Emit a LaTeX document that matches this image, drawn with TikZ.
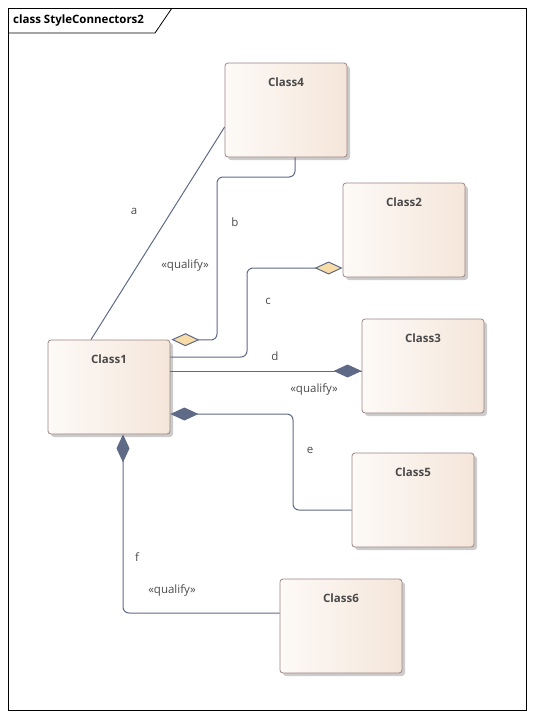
\documentclass[tikz,border=0pt]{standalone}
\usepackage{fontspec}
\setmainfont{Open Sans}
\usetikzlibrary{arrows.meta,shadows,calc}
\definecolor{connc}{HTML}{5F6A87}
\definecolor{boxborder}{HTML}{9C8484}
\definecolor{boxleft}{HTML}{FDFAF7}
\definecolor{boxright}{HTML}{F5E6DA}
\definecolor{hollowfill}{HTML}{F8DCA8}
\definecolor{txt}{HTML}{4A4A4A}
\begin{document}
\begin{tikzpicture}[x=1pt,y=-1pt,
  cls/.style={draw=boxborder, line width=0.8pt, rounded corners=3pt,
    minimum width=122pt, minimum height=94pt, inner sep=0pt,
    left color=boxleft, right color=boxright,
    drop shadow={shadow xshift=3pt, shadow yshift=-3pt, fill=black!20, opacity=1}},
  ttl/.style={font=\fontsize{11.5}{13}\selectfont\bfseries, text=txt, inner sep=0pt, anchor=north, yshift=-15pt},
  conn/.style={draw=connc, line width=1pt, rounded corners=6pt},
  lbl/.style={font=\fontsize{11.5}{13}\selectfont, text=txt, inner sep=0pt},
  hollow/.style={{Diamond[length=28pt,width=13pt,fill=hollowfill]}-},
  solid/.style={{Diamond[length=28pt,width=13pt]}-}
]
\useasboundingbox (0,0) rectangle (534,718);
% frame
\draw[line width=0.8pt, black] (8,8) rectangle (526,710);
\draw[line width=0.8pt, black] (8,33) -- (155,33) -- (172,8);
\node[anchor=west, font=\fontsize{11.5}{13}\selectfont\bfseries, text=black, inner sep=0pt] (title) at (13,21) {class StyleConnectors2};

% classes
\node[cls, label={[ttl]north:Class4}] (c4) at (286,110) {};
\node[cls, label={[ttl]north:Class2}] (c2) at (404,230) {};
\node[cls, label={[ttl]north:Class3}] (c3) at (423,366) {};
\node[cls, label={[ttl]north:Class1}] (c1) at (109,387) {};
\node[cls, label={[ttl]north:Class5}] (c5) at (413,500) {};
\node[cls, label={[ttl]north:Class6}] (c6) at (341,626) {};

% bend coordinates
\coordinate (b1) at (217,340);
\coordinate (b2) at (217,177);
\coordinate (b3) at (295,177);
\coordinate (cc1) at (247,268);
\coordinate (cc2) at (247,357);
\coordinate (e1) at (293,414);
\coordinate (e2) at (293,510);
\coordinate (f1) at (123,613);

% a
\draw[conn] ($(c1.north)+(-18,0)$) -- ($(c4.west)+(0,17)$);
% b
\draw[conn, hollow] ($(c1.north east)+(1,0)$) -- (b1) -- (b2) -- (b3) -- (c4.south -| b3);
% c
\draw[conn, hollow] ($(c2.west)+(0,38)$) -- (cc1) -- (cc2) -- (c1.east |- cc2);
% d
\draw[conn] ($(c1.east)+(0,-16)$) -- ($(c3.west)+(0,5)$);
\draw[conn, solid] ($(c3.west)+(0,5)$) -- ++(-30,0);
% e
\draw[conn, solid] ($(c1.east)+(0,27)$) -- (e1) -- (e2) -- (c5.west |- e2);
% f
\draw[conn, solid] ($(c1.south)+(14,0)$) -- (f1) -- (c6.west |- f1);

% labels
\node[lbl] (la) at (134,211) {a};
\node[lbl] (lb) at (235,222) {b};
\node[lbl] (lq1) at (185,265) {«qualify»};
\node[lbl] (lc) at (268,301) {c};
\node[lbl] (ld) at (275,356) {d};
\node[lbl] (lq2) at (314,389) {«qualify»};
\node[lbl] (le) at (310,450) {e};
\node[lbl] (lf) at (137,557) {f};
\node[lbl] (lq3) at (172,590) {«qualify»};
\end{tikzpicture}
\end{document}
